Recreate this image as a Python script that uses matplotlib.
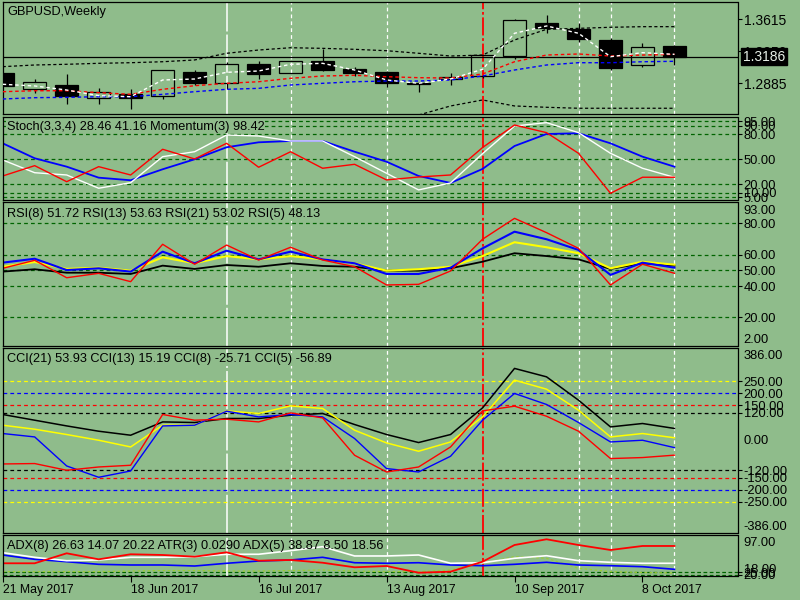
import numpy as np
import matplotlib
matplotlib.use('Agg')
import matplotlib.pyplot as plt
from matplotlib.transforms import offset_copy

plt.rcParams['font.family'] = ['Liberation Sans', 'DejaVu Sans']
plt.rcParams['font.size'] = 9

# Weekly GBPUSD candles (21 May 2017 .. 15 Oct 2017)
opens = [1.3006, 1.2817, 1.2866, 1.2722, 1.2767, 1.2744, 1.3013, 1.2885, 1.3104, 1.2999, 1.3138,
         1.3048, 1.3013, 1.2892, 1.2931, 1.2965, 1.3195, 1.3566, 1.3501, 1.3377, 1.3096, 1.3309]
closes = [1.2855, 1.2900, 1.2744, 1.2783, 1.2722, 1.3033, 1.2892, 1.3104, 1.2994, 1.3135, 1.3036,
          1.3002, 1.2885, 1.2874, 1.2957, 1.3206, 1.3600, 1.3509, 1.3391, 1.3062, 1.3294, 1.3186]
highs = [1.3006, 1.2934, 1.2991, 1.2828, 1.2817, 1.3036, 1.3036, 1.3127, 1.3138, 1.3138, 1.3271,
         1.3074, 1.3025, 1.2900, 1.3006, 1.3206, 1.3615, 1.3660, 1.3566, 1.3403, 1.3339, 1.3317]
lows = [1.2855, 1.2772, 1.2647, 1.2647, 1.2597, 1.2710, 1.2862, 1.2817, 1.2937, 1.2999, 1.3025,
        1.2968, 1.2840, 1.2783, 1.2862, 1.2949, 1.3158, 1.3453, 1.3351, 1.3036, 1.3074, 1.3093]
last_price = 1.3186

# moving averages / bands on the price chart
ma_white = [1.2874, 1.2855, 1.2809, 1.2745, 1.2733, 1.2923, 1.2934, 1.3010, 1.3025, 1.3101, 1.3112,
            1.3036, 1.2923, 1.2885, 1.2934, 1.3044, 1.3453, 1.3536, 1.3453, 1.3187, 1.3233, 1.3214]
ma_red = [1.2790, 1.2801, 1.2801, 1.2779, 1.2760, 1.2817, 1.2858, 1.2885, 1.2903, 1.2942, 1.2968,
          1.2976, 1.2960, 1.2949, 1.2945, 1.2991, 1.3130, 1.3206, 1.3218, 1.3195, 1.3206, 1.3214]
ma_blue = [1.2707, 1.2722, 1.2726, 1.2733, 1.2733, 1.2760, 1.2790, 1.2817, 1.2828, 1.2866, 1.2885,
           1.2903, 1.2911, 1.2911, 1.2923, 1.2968, 1.3036, 1.3093, 1.3119, 1.3119, 1.3130, 1.3135]
band_upper = [1.3074, 1.3093, 1.3101, 1.3112, 1.3119, 1.3130, 1.3150, 1.3226, 1.3263, 1.3289, 1.3282,
              1.3271, 1.3255, 1.3226, 1.3195, 1.3206, 1.3377, 1.3498, 1.3509, 1.3521, 1.3528, 1.3528]
band_lower = [1.2440, 1.2430, 1.2425, 1.2420, 1.2415, 1.2420, 1.2430, 1.2440, 1.2450, 1.2460, 1.2470,
              1.2480, 1.2500, 1.2525, 1.2628, 1.2696, 1.2628, 1.2613, 1.2602, 1.2602, 1.2602, 1.2602]
price_ticks = [1.3615, 1.3250, 1.2885]

# Stochastic + momentum
stoch_main = [49.2, 34.0, 31.3, 15.5, 22.1, 53.1, 59.0, 78.9, 77.7, 71.8, 71.8,
              53.1, 33.3, 13.5, 21.8, 56.7, 89.6, 93.6, 81.7, 57.1, 39.3, 28.46]
stoch_signal = [69.0, 51.2, 41.2, 28.1, 25.0, 38.1, 50.0, 64.3, 70.2, 71.8, 71.8,
                59.0, 47.1, 30.1, 21.8, 38.5, 65.8, 80.1, 81.0, 69.0, 53.1, 41.16]
momentum = [30.1, 42.4, 23.3, 41.2, 31.3, 61.9, 50.4, 69.0, 40.5, 59.0, 39.3,
            44.0, 25.4, 28.9, 31.3, 64.0, 90.8, 81.7, 57.1, 9.5, 28.6, 28.6]
stoch_levels = [95, 90, 80, 50, 20, 10, 5]

# RSI
rsi5 = [51.3, 56.4, 45.3, 48.1, 42.8, 66.6, 53.9, 66.1, 56.6, 64.7, 56.6,
        52.3, 40.7, 41.1, 49.6, 69.8, 83.1, 74.0, 64.0, 40.7, 53.9, 48.13]
rsi8 = [54.9, 57.4, 50.2, 51.3, 49.2, 61.9, 54.5, 62.5, 57.0, 61.9, 57.0,
        54.5, 47.7, 47.7, 51.7, 64.0, 74.6, 69.8, 63.0, 47.1, 54.9, 51.72]
rsi13 = [52.3, 55.3, 50.9, 51.7, 49.8, 58.3, 54.5, 59.1, 57.0, 59.1, 57.0,
         54.5, 49.8, 50.7, 52.3, 59.1, 67.9, 64.7, 60.9, 51.3, 55.5, 53.63]
rsi21 = [49.2, 50.7, 48.5, 48.5, 47.7, 53.0, 50.9, 53.4, 52.3, 54.5, 52.8,
         52.3, 49.8, 49.8, 51.3, 55.5, 60.9, 59.1, 57.0, 50.9, 54.5, 53.02]
rsi_levels = [80, 60, 50, 40, 20]

# CCI
cci21 = [111.8, 88.1, 64.4, 42.4, 25.8, 81.0, 78.5, 95.2, 95.2, 108.9, 116.0,
         70.2, 28.7, -4.6, 28.7, 139.2, 303.0, 268.1, 171.2, 60.3, 74.4, 53.93]
cci13 = [67.3, 50.7, 28.7, 5.0, -22.9, 67.3, 67.3, 126.8, 116.0, 147.5, 136.7,
         46.5, -6.2, -40.7, -2.1, 101.8, 254.3, 216.9, 129.7, 18.7, 32.8, 15.19]
cci8 = [32.8, 18.7, -101.8, -148.8, -122.6, 64.4, 67.3, 125.5, 101.8, 111.8, 101.8,
        12.1, -112.6, -126.8, -61.5, 88.1, 199.1, 153.4, 78.5, -2.1, 5.0, -25.71]
cci5 = [-93.5, -91.8, -119.7, -106.0, -98.9, 111.8, 88.1, 92.3, 81.0, 118.4, 97.7,
        -57.4, -126.8, -106.0, -22.9, 126.8, 146.3, 104.7, 42.4, -71.1, -66.9, -56.89]
cci_levels = [250, 200, 150, 120, -120, -150, -200, -250]
cci_level_colors = ['yellow', 'blue', 'red', 'black', 'black', 'red', 'blue', 'yellow']

# ADX / ATR
adx_white = [62.7, 53.7, 47.1, 48.5, 53.7, 53.7, 54.9, 59.6, 59.6, 66.6, 74.3,
             56.3, 56.3, 58.2, 42.1, 43.2, 51.8, 56.8, 47.1, 44.0, 42.1, 42.1]
adx_red = [42.1, 42.1, 61.5, 49.8, 59.6, 58.2, 54.9, 63.4, 47.1, 48.5, 43.2,
           34.3, 36.8, 23.8, 25.8, 45.2, 77.6, 88.7, 77.6, 67.9, 75.7, 75.7]
adx_blue = [58.2, 49.8, 45.2, 40.1, 38.8, 38.8, 36.8, 42.1, 46.5, 48.5, 53.7,
            43.2, 42.1, 43.2, 38.8, 37.4, 40.1, 44.0, 38.8, 37.4, 35.5, 30.4]
atr_line = [26, 26, 26, 26, 27, 28, 28, 27, 27, 28, 29,
            27, 26, 26, 29, 42.1, 54.9, 51.8, 32.4, 25.8, 24.2, 23.2]
adx_levels = [25, 20]

tick_pos = [0, 4, 8, 12, 16, 20]
tick_labels = ['21 May 2017', '18 Jun 2017', '16 Jul 2017', '13 Aug 2017', '10 Sep 2017', '8 Oct 2017']
white_marks = [9, 12, 18, 19, 21]
long_mark = 7
red_mark = 15

bg = '#8fbc8b'
lvl_green = '#006400'
x = np.arange(len(closes))

fig = plt.figure(figsize=(8, 6), dpi=100, facecolor=bg)
L, R = 2.7, 737.5


def panel(top, bottom):
    ax = fig.add_axes([L / 800, 1 - bottom / 600, (R - L) / 800, (bottom - top) / 600])
    ax.set_facecolor(bg)
    ax.set_xlim(0, 22.97)
    for s in ax.spines.values():
        s.set_linewidth(0.9)
        s.set_color('black')
    ax.tick_params(axis='x', bottom=False, labelbottom=False)
    ax.yaxis.tick_right()
    ax.tick_params(axis='y', direction='out', length=3, width=0.8, pad=1.5,
                   labelsize=9.3, colors='black')
    for m in white_marks:
        ax.axvline(m, color='white', lw=0.9, ls=(0, (3, 2.5)), zorder=1)
    ax.axvline(long_mark, color='white', lw=1.1, ls=(0, (25, 2)), zorder=1)
    ax.axvline(red_mark, color='#ff0000', lw=1.3, ls=(0, (10, 1.5, 1.5, 1.5)), zorder=1)
    return ax


def side_text(ax, y, s, va, dy=0):
    tr = offset_copy(ax.get_yaxis_transform(), fig=fig, y=dy, units='dots')
    ax.text(1.0082, y, s, transform=tr, ha='left', va=va, fontsize=9.3, clip_on=False)


# ---- price panel
ax0 = panel(2, 114)
ax0.set_ylim(1.25368, 1.38080)
ax0.axhline(last_price, color='black', lw=0.9, zorder=2)
dash = (0, (2.5, 2))
ax0.plot(x, band_upper, color='black', lw=0.9, ls=dash, zorder=2)
ax0.plot(x, band_lower, color='black', lw=0.9, ls=dash, zorder=2)
ax0.plot(x, ma_blue, color='blue', lw=1, ls=dash, zorder=4)
ax0.plot(x, ma_red, color='red', lw=1, ls=dash, zorder=4)
ax0.plot(x, ma_white, color='white', lw=1, ls=dash, zorder=4)
o, c, h, lo = map(np.array, (opens, closes, highs, lows))
body_lo = np.minimum(o, c)
body_hi = np.maximum(o, c)
ax0.vlines(x, lo, body_lo, color='black', lw=0.9, zorder=3)
ax0.vlines(x, body_hi, h, color='black', lw=0.9, zorder=3)
faces = ['black' if cc < oo else 'none' for oo, cc in zip(opens, closes)]
ax0.bar(x, body_hi - body_lo, bottom=body_lo, width=0.72, color=faces,
        edgecolor='black', linewidth=0.9, zorder=3)
ax0.set_yticks(price_ticks, ['%.4f' % p for p in price_ticks])
ax0.tick_params(axis='y', labelsize=10)
ax0.text(1.0075, last_price, '1.3186', transform=ax0.get_yaxis_transform(), ha='left',
         va='center', color='#e8f0e8', fontsize=10, clip_on=False, zorder=10,
         bbox=dict(facecolor='black', edgecolor='black', pad=1.2))

# ---- stochastic panel
ax1 = panel(116.7, 200)
ax1.set_ylim(1.5, 100.7)
for lv in stoch_levels:
    ax1.axhline(lv, color=lvl_green, lw=0.9, ls=(0, (3, 2.5)), zorder=1)
ax1.plot(x, stoch_signal, color='blue', lw=1.3)
ax1.plot(x, stoch_main, color='white', lw=1)
ax1.plot(x, momentum, color='red', lw=1)
ax1.set_yticks(stoch_levels, ['%.2f' % v for v in stoch_levels])

# ---- RSI panel
ax2 = panel(202, 345.7)
ax2.set_ylim(2.05, 93.5)
for lv in rsi_levels:
    ax2.axhline(lv, color=lvl_green, lw=0.9, ls=(0, (3, 2.5)), zorder=1)
ax2.plot(x, rsi21, color='black', lw=1.3)
ax2.plot(x, rsi13, color='yellow', lw=1.5)
ax2.plot(x, rsi8, color='blue', lw=1.5)
ax2.plot(x, rsi5, color='red', lw=1)
ax2.set_yticks(rsi_levels, ['%.2f' % v for v in rsi_levels])
side_text(ax2, 93.5, '93.00', 'top', dy=-3)
side_text(ax2, 2.05, '2.00', 'bottom')

# ---- CCI panel
ax3 = panel(347.7, 533)
ax3.set_ylim(-380, 389)
for lv, col in zip(cci_levels, cci_level_colors):
    ax3.axhline(lv, color=col, lw=0.9, ls=(0, (3, 2.5)), zorder=1)
ax3.plot(x, cci21, color='black', lw=1.1)
ax3.plot(x, cci13, color='yellow', lw=1.1)
ax3.plot(x, cci8, color='blue', lw=1)
ax3.plot(x, cci5, color='red', lw=1)
ax3.set_yticks(cci_levels, ['%.2f' % v for v in cci_levels])
side_text(ax3, 389, '386.00', 'top', dy=-2)
side_text(ax3, 0, '0.00', 'center')
side_text(ax3, -380, '-386.00', 'bottom')

# ---- ADX panel
ax4 = panel(535, 575.7)
ax4.set_ylim(18, 97)
for lv in adx_levels:
    ax4.axhline(lv, color=lvl_green, lw=0.9, ls=(0, (3, 2)), zorder=1)
ax4.plot(x, atr_line, color='yellowgreen', lw=0.9, ls=(0, (2, 2)))
ax4.plot(x, adx_blue, color='blue', lw=1.2)
ax4.plot(x, adx_white, color='white', lw=1.2)
ax4.plot(x, adx_red, color='red', lw=1.3)
ax4.set_yticks(adx_levels, ['%.2f' % v for v in adx_levels])
side_text(ax4, 97, '97.00', 'top', dy=-2)
side_text(ax4, 18, '18.00', 'bottom')
ax4.set_xticks(tick_pos, tick_labels)
ax4.tick_params(axis='x', bottom=True, labelbottom=True, direction='out', length=4,
                width=0.8, pad=2, labelsize=8.8)
for lbl in ax4.get_xticklabels():
    lbl.set_ha('left')

# ---- panel captions
fig.text(7 / 800, 1 - 12 / 600, 'GBPUSD,Weekly', ha='left', va='center', fontsize=9.2)
cap = dict(ha='left', va='center', fontsize=9.2,
           bbox=dict(facecolor=bg, edgecolor='none', pad=0.5))
fig.text(7 / 800, 1 - 126.7 / 600, 'Stoch(3,3,4) 28.46 41.16 Momentum(3) 98.42', **cap)
fig.text(7 / 800, 1 - 214.3 / 600, 'RSI(8) 51.72 RSI(13) 53.63 RSI(21) 53.02 RSI(5) 48.13', **cap)
fig.text(7 / 800, 1 - 359.3 / 600, 'CCI(21) 53.93 CCI(13) 15.19 CCI(8) -25.71 CCI(5) -56.89', **cap)
fig.text(7 / 800, 1 - 546 / 600,
         'ADX(8) 26.63 14.07 20.22 ATR(3) 0.0290 ADX(5) 38.87 8.50 18.56',
         ha='left', va='center', fontsize=9.2)

fig.savefig('out.png', dpi=100, facecolor=bg)
